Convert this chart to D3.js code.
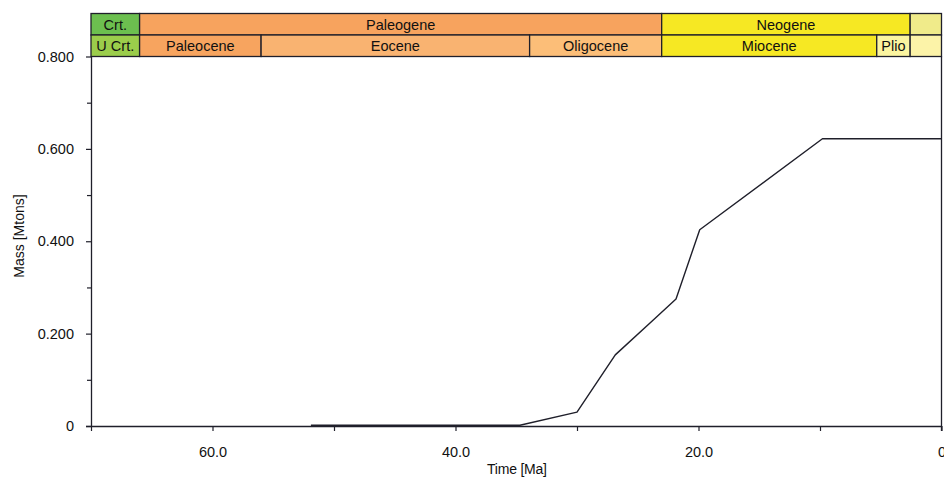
<!DOCTYPE html>
<html>
<head>
<meta charset="utf-8">
<script src="https://cdn.jsdelivr.net/npm/d3@7"></script>
<style>
  html, body { margin: 0; padding: 0; background: #fff; }
  svg { display: block; font-family: "Liberation Sans", Arial, sans-serif; }
</style>
</head>
<body>
<svg id="chart" width="944" height="477"></svg>
<script>
// ---- data ----
const timeMa = [51.9, 34.7, 30.0, 26.85, 23.7, 21.85, 19.9, 9.8, 0];
const massMt = [0.0015, 0.0015, 0.030, 0.154, 0.230, 0.275, 0.425, 0.622, 0.622];

const periodNames  = ["Crt.", "Paleogene", "Neogene", ""];
const periodStart  = [70, 66, 23.03, 2.58];
const periodEnd    = [66, 23.03, 2.58, 0];
const periodColors = ["#6cbf4f", "#f7a35e", "#f6e823", "#f0eb8a"];

const epochNames  = ["U Crt.", "Paleocene", "Eocene", "Oligocene", "Miocene", "Plio", ""];
const epochStart  = [70, 66, 56, 33.9, 23.03, 5.33, 2.58];
const epochEnd    = [66, 56, 33.9, 23.03, 5.33, 2.58, 0];
const epochColors = ["#9bcd4b", "#f7a45f", "#f9b371", "#fcbe78", "#f6e823", "#fbf5a0", "#fcf3a8"];

const xTicksMajor = [60, 40, 20, 0];
const xTicksAll   = [70, 60, 50, 40, 30, 20, 10, 0];
const yTicksMajor = [0, 0.2, 0.4, 0.6, 0.8];
const yTicksMinor = [0.1, 0.3, 0.5, 0.7];

// ---- layout ----
const svg = d3.select("#chart");
const pL = 91, pR = 941.5, pT = 56.5, pB = 426;
const hdrTop = 13.5, hdrMid = 35;

const x = d3.scaleLinear().domain([70, 0]).range([pL, pR]);
const y = d3.scaleLinear().domain([0, 0.8]).range([pB, pT]);

const ink = "#1f1f2a";
const fs = 14.5;

// header row 1
const g1 = svg.append("g");
periodNames.forEach((n, i) => {
  const x0 = x(periodStart[i]), x1 = x(periodEnd[i]);
  g1.append("rect").attr("x", x0).attr("y", hdrTop).attr("width", x1 - x0).attr("height", hdrMid - hdrTop)
    .attr("fill", periodColors[i]).attr("stroke", ink).attr("stroke-width", 1.3);
  g1.append("text").attr("x", (x0 + x1) / 2).attr("y", 29.8)
    .attr("text-anchor", "middle").attr("font-size", fs).attr("fill", "#111").text(n);
});
// header row 2
epochNames.forEach((n, i) => {
  const x0 = x(epochStart[i]), x1 = x(epochEnd[i]);
  g1.append("rect").attr("x", x0).attr("y", hdrMid).attr("width", x1 - x0).attr("height", pT - hdrMid)
    .attr("fill", epochColors[i]).attr("stroke", ink).attr("stroke-width", 1.3);
  g1.append("text").attr("x", (x0 + x1) / 2).attr("y", 51.2)
    .attr("text-anchor", "middle").attr("font-size", fs).attr("fill", "#111").text(n);
});

// right frame
svg.append("line").attr("x1", pR).attr("x2", pR).attr("y1", pT).attr("y2", pB + 5)
  .attr("stroke", ink).attr("stroke-width", 1.3);

// x axis
const xAxis = d3.axisBottom(x).tickValues(xTicksAll).tickSize(5)
  .tickFormat(d => xTicksMajor.includes(d) ? (d === 0 ? "0" : d3.format(".1f")(d)) : "");
const gx = svg.append("g").attr("transform", `translate(0,${pB})`).call(xAxis);
gx.select(".domain").attr("stroke", ink).attr("stroke-width", 1.3).attr("d", `M${pL - 5},0.5H${pR}`);
gx.selectAll(".tick line").attr("stroke", ink).attr("stroke-width", 1.2);
gx.selectAll(".tick text").attr("font-size", fs).attr("fill", "#111").attr("y", 30.5).attr("dy", null)
  .attr("font-family", "Liberation Sans, Arial, sans-serif");

// y axis
const yAxis = d3.axisLeft(y).tickValues(yTicksMajor).tickSize(5)
  .tickFormat(d => d === 0 ? "0" : d3.format(".3f")(d));
const gy = svg.append("g").attr("transform", `translate(${pL},0)`).call(yAxis);
gy.select(".domain").attr("stroke", ink).attr("stroke-width", 1.3).attr("d", `M0.5,${pT}V${pB}`);
gy.selectAll(".tick line").attr("stroke", ink).attr("stroke-width", 1.2);
gy.selectAll(".tick text").attr("font-size", fs).attr("fill", "#111").attr("x", -17)
  .attr("font-family", "Liberation Sans, Arial, sans-serif");
const yMinor = d3.axisLeft(y).tickValues(yTicksMinor).tickSize(4).tickFormat("");
const gym = svg.append("g").attr("transform", `translate(${pL},0)`).call(yMinor);
gym.select(".domain").remove();
gym.selectAll(".tick line").attr("stroke", ink).attr("stroke-width", 1.2);

// axis titles
svg.append("text").attr("x", 517).attr("y", 473.5).attr("text-anchor", "middle")
  .attr("font-size", 14).attr("fill", "#111").attr("textLength", 60).text("Time [Ma]");
svg.append("text").attr("transform", `translate(23.5,236) rotate(-90)`)
  .attr("text-anchor", "middle").attr("font-size", 14).attr("fill", "#111").text("Mass [Mtons]");

// line
const line = d3.line().x((d, i) => x(timeMa[i])).y((d, i) => y(massMt[i]));
svg.append("path").datum(massMt).attr("d", line).attr("fill", "none")
  .attr("stroke", ink).attr("stroke-width", 1.4).attr("stroke-linejoin", "round");
</script>
</body>
</html>
